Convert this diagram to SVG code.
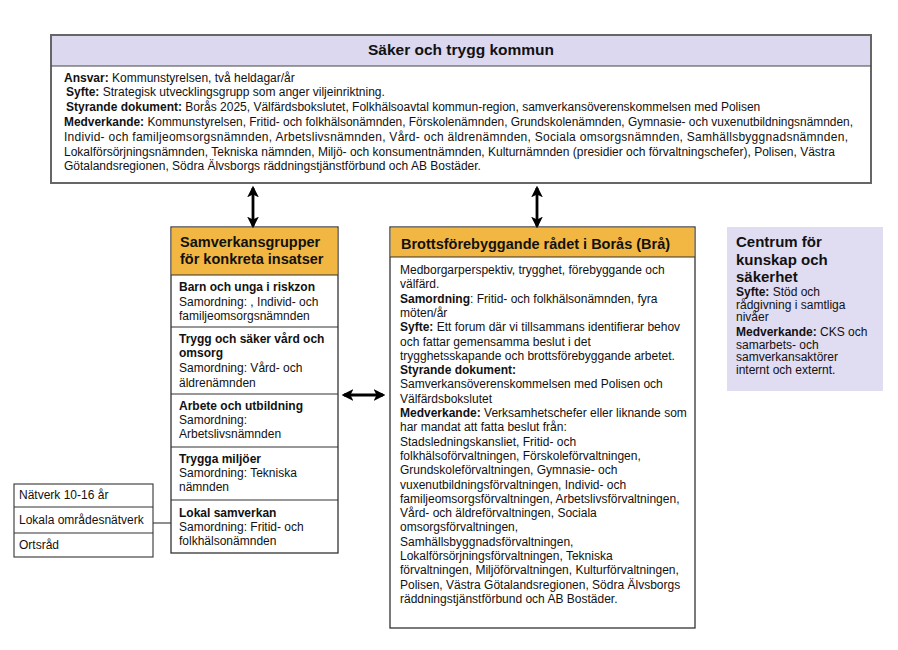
<svg xmlns="http://www.w3.org/2000/svg" width="898" height="650" viewBox="0 0 898 650">
<defs>
<style>
text{font-family:"Liberation Sans",Arial,sans-serif;fill:#111;}
.t{font-size:12px;}
.s{font-size:12px;}
.b{font-weight:bold;}
.h{font-size:14.5px;font-weight:bold;}
.box{fill:#fff;stroke:#333;stroke-width:1.3;}
.sep{stroke:#333;stroke-width:1.2;}
.gold{fill:#f2b742;}
.conn{stroke:#000;stroke-width:2.8;fill:none;}
</style>
<marker id="ah" viewBox="0 0 10 10" refX="8" refY="5" markerWidth="4.2" markerHeight="4.2" orient="auto-start-reverse" markerUnits="strokeWidth">
<path d="M0,0 L10,5 L0,10 L2.5,5 z" fill="#000"/>
</marker>
</defs>
<rect width="898" height="650" fill="#fff"/>

<g id="top">
<rect x="51" y="35" width="820" height="148" fill="#fff" stroke="#666" stroke-width="2"/>
<rect x="52" y="36" width="818" height="30" fill="#dcd8ef"/>
<line x1="51" y1="66" x2="871" y2="66" stroke="#444" stroke-width="1.2"/>
<text x="461" y="55" text-anchor="middle" style="font-size:15.5px;font-weight:bold">Säker och trygg kommun</text>
<text class="t" x="64" y="82"><tspan class="b">Ansvar:</tspan> Kommunstyrelsen, två heldagar/år</text>
<text class="t" x="66" y="96"><tspan class="b">Syfte:</tspan> Strategisk utvecklingsgrupp som anger viljeinriktning.</text>
<text class="t" x="66" y="111"><tspan class="b">Styrande dokument:</tspan> Borås 2025, Välfärdsbokslutet, Folkhälsoavtal kommun-region, samverkansöverenskommelsen med Polisen</text>
<text class="t" x="64" y="126" textLength="789" lengthAdjust="spacingAndGlyphs"><tspan class="b">Medverkande:</tspan> Kommunstyrelsen, Fritid- och folkhälsonämnden, Förskolenämnden, Grundskolenämnden, Gymnasie- och vuxenutbildningsnämnden,</text>
<text class="t" x="64" y="141" textLength="784" lengthAdjust="spacing">Individ- och familjeomsorgsnämnden, Arbetslivsnämnden, Vård- och äldrenämnden, Sociala omsorgsnämnden, Samhällsbyggnadsnämnden,</text>
<text class="t" x="64" y="156">Lokalförsörjningsnämnden, Tekniska nämnden, Miljö- och konsumentnämnden, Kulturnämnden (presidier och förvaltningschefer), Polisen, Västra</text>
<text class="t" x="64" y="170">Götalandsregionen, Södra Älvsborgs räddningstjänstförbund och AB Bostäder.</text>
</g>

<g id="samverkansgrupper">
<rect class="box" x="171" y="227" width="167" height="326"/>
<rect class="gold" x="171.7" y="227.7" width="165.6" height="47.3"/>
<line class="sep" x1="171" y1="275" x2="338" y2="275"/>
<line class="sep" x1="171" y1="327" x2="338" y2="327"/>
<line class="sep" x1="171" y1="394" x2="338" y2="394"/>
<line class="sep" x1="171" y1="447" x2="338" y2="447"/>
<line class="sep" x1="171" y1="500" x2="338" y2="500"/>
<text class="h" x="180" y="247">Samverkansgrupper</text>
<text class="h" x="180" y="264">för konkreta insatser</text>
<text class="s b" x="179" y="291">Barn och unga i riskzon</text>
<text class="s" x="179" y="306">Samordning: , Individ- och</text>
<text class="s" x="179" y="320">familjeomsorgsnämnden</text>
<text class="s b" x="179" y="343">Trygg och säker vård och</text>
<text class="s b" x="179" y="357">omsorg</text>
<text class="s" x="179" y="372">Samordning: Vård- och</text>
<text class="s" x="179" y="387">äldrenämnden</text>
<text class="s b" x="179" y="410">Arbete och utbildning</text>
<text class="s" x="179" y="424">Samordning:</text>
<text class="s" x="179" y="438">Arbetslivsnämnden</text>
<text class="s b" x="179" y="463">Trygga miljöer</text>
<text class="s" x="179" y="477">Samordning: Tekniska</text>
<text class="s" x="179" y="491">nämnden</text>
<text class="s b" x="179" y="517">Lokal samverkan</text>
<text class="s" x="179" y="531">Samordning: Fritid- och</text>
<text class="s" x="179" y="545">folkhälsonämnden</text>
</g>

<g id="bra">
<rect class="box" x="390" y="227" width="305" height="401"/>
<rect class="gold" x="390.7" y="227.7" width="303.6" height="29.3"/>
<line class="sep" x1="390" y1="257" x2="695" y2="257"/>
<text class="h" x="401" y="249">Brottsförebyggande rådet i Borås (Brå)</text>
<text class="s" x="400" y="274">Medborgarperspektiv, trygghet, förebyggande och</text>
<text class="s" x="400" y="288.3">välfärd.</text>
<text class="s" x="400" y="302.6"><tspan class="b">Samordning</tspan>:  Fritid- och folkhälsonämnden, fyra</text>
<text class="s" x="400" y="316.9">möten/år</text>
<text class="s" x="400" y="331.2"><tspan class="b">Syfte:</tspan> Ett forum där vi tillsammans identifierar behov</text>
<text class="s" x="400" y="345.5">och fattar gemensamma beslut i det</text>
<text class="s" x="400" y="359.8">trygghetsskapande och brottsförebyggande arbetet.</text>
<text class="s b" x="400" y="374.1">Styrande dokument:</text>
<text class="s" x="400" y="388.4">Samverkansöverenskommelsen med Polisen och</text>
<text class="s" x="400" y="402.7">Välfärdsbokslutet</text>
<text class="s" x="400" y="417"><tspan class="b">Medverkande:</tspan> Verksamhetschefer eller liknande som</text>
<text class="s" x="400" y="431.3">har mandat att fatta beslut från:</text>
<text class="s" x="400" y="445.6">Stadsledningskansliet, Fritid- och</text>
<text class="s" x="400" y="459.9">folkhälsoförvaltningen, Förskoleförvaltningen,</text>
<text class="s" x="400" y="474.2">Grundskoleförvaltningen, Gymnasie- och</text>
<text class="s" x="400" y="488.5">vuxenutbildningsförvaltningen, Individ- och</text>
<text class="s" x="400" y="502.8">familjeomsorgsförvaltningen, Arbetslivsförvaltningen,</text>
<text class="s" x="400" y="517.1">Vård- och äldreförvaltningen, Sociala</text>
<text class="s" x="400" y="531.4">omsorgsförvaltningen,</text>
<text class="s" x="400" y="545.7">Samhällsbyggnadsförvaltningen,</text>
<text class="s" x="400" y="560">Lokalförsörjningsförvaltningen, Tekniska</text>
<text class="s" x="400" y="574.3">förvaltningen, Miljöförvaltningen, Kulturförvaltningen,</text>
<text class="s" x="400" y="588.6">Polisen, Västra Götalandsregionen, Södra Älvsborgs</text>
<text class="s" x="400" y="602.9">räddningstjänstförbund och AB Bostäder.</text>
</g>

<g id="cks">
<rect x="727" y="227" width="156" height="164" fill="#e0dcf1"/>
<text x="736" y="247" style="font-size:15px;font-weight:bold">Centrum för</text>
<text x="736" y="264.5" style="font-size:15px;font-weight:bold">kunskap och</text>
<text x="736" y="282" style="font-size:15px;font-weight:bold">säkerhet</text>
<text class="s" x="736" y="296"><tspan class="b">Syfte:</tspan> Stöd och</text>
<text class="s" x="736" y="308.7">rådgivning i samtliga</text>
<text class="s" x="736" y="321.4">nivåer</text>
<text class="s" x="736" y="336"><tspan class="b">Medverkande:</tspan> CKS och</text>
<text class="s" x="736" y="348.7">samarbets- och</text>
<text class="s" x="736" y="361.4">samverkansaktörer</text>
<text class="s" x="736" y="374.1">internt och externt.</text>
</g>

<g id="natverk">
<rect x="14" y="484" width="139" height="73" fill="#fff" stroke="#333" stroke-width="1.1"/>
<line class="sep" x1="14" y1="507" x2="153" y2="507" stroke-width="1"/>
<line class="sep" x1="14" y1="533" x2="153" y2="533" stroke-width="1"/>
<text class="s" x="19" y="499">Nätverk 10-16 år</text>
<text class="s" x="19" y="524">Lokala områdesnätverk</text>
<text class="s" x="19" y="549">Ortsråd</text>
</g>

<g id="connectors">
<line class="conn" x1="253" y1="188" x2="253" y2="226" marker-start="url(#ah)" marker-end="url(#ah)"/>
<line class="conn" x1="537" y1="188" x2="537" y2="226" marker-start="url(#ah)" marker-end="url(#ah)"/>
<line class="conn" x1="344" y1="395" x2="383" y2="395" marker-start="url(#ah)" marker-end="url(#ah)"/>
<line x1="153" y1="523" x2="171" y2="523" stroke="#333" stroke-width="1.1"/>
</g>
</svg>
